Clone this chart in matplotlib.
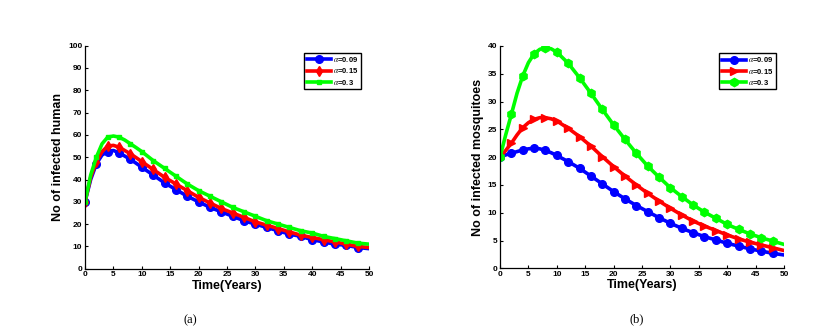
import matplotlib.pyplot as plt

plt.rcParams['font.family'] = ['Liberation Sans', 'DejaVu Sans']
plt.rcParams['mathtext.fontset'] = 'stix'

# time points (odd years only where the curve bends)
t = [0, 1, 2, 3, 4, 5, 6, 7, 8, 9, 10, 12, 14, 16, 18, 20, 22, 24, 26, 28,
     30, 32, 34, 36, 38, 40, 42, 44, 46, 48, 50]
marker_idx = [i for i, v in enumerate(t) if v % 2 == 0 and v < 50]

labels = [r'$\alpha$=0.09', r'$\alpha$=0.15', r'$\alpha$=0.3']
colors = ['#0000ff', '#ff0000', '#00ff00']

# panel (a): infected humans
human_009 = [30, 40, 47, 51, 52.5, 53, 52, 50.5, 49, 47.3, 45.5, 42, 38.5, 35.5, 32.5,
             30, 27.5, 25.5, 23.5, 21.5, 20, 18.5, 17, 15.5, 14.5, 13, 12, 11, 10.5, 9.5, 9]
human_015 = [30, 41, 48, 52.5, 55, 55.3, 54.5, 53, 51.5, 49.8, 48, 44.5, 41, 38, 35,
             32, 29.5, 27, 25, 23, 21, 19.5, 18, 16.5, 15, 14, 13, 12, 11, 10, 9.5]
human_03 = [30, 42, 50, 56, 59, 59.5, 59, 57.7, 56, 54.3, 52.5, 48.5, 45, 41.5, 38,
            35, 32.5, 30, 27.5, 25.5, 23.5, 21.5, 20, 18.5, 17, 16, 14.5, 13.5, 12.5, 11.5, 11]

# panel (b): infected mosquitoes
mosq_009 = [20, 20.4, 20.7, 21.0, 21.3, 21.5, 21.6, 21.5, 21.2, 20.8, 20.3, 19.2, 18, 16.6,
            15.2, 13.8, 12.5, 11.3, 10.2, 9.1, 8.1, 7.2, 6.4, 5.7, 5.1, 4.5, 4.0, 3.5, 3.1, 2.7, 2.4]
mosq_015 = [20, 21.2, 22.5, 24.0, 25.3, 26.2, 26.8, 27.1, 27.1, 26.9, 26.5, 25.2, 23.7, 22,
            20.1, 18.3, 16.6, 15.0, 13.5, 12.1, 10.8, 9.6, 8.5, 7.6, 6.8, 6.0, 5.3, 4.7, 4.2, 3.7, 3.2]
mosq_03 = [20, 24, 27.7, 31.5, 34.6, 37, 38.6, 39.4, 39.7, 39.5, 38.9, 36.9, 34.3, 31.5,
           28.6, 25.8, 23.2, 20.7, 18.4, 16.4, 14.5, 12.9, 11.4, 10.1, 9.0, 7.9, 7.0, 6.2, 5.5, 4.9, 4.3]

fig = plt.figure(figsize=(8.2, 3.32), dpi=100)
ax1 = fig.add_axes([85 / 820, 63.3 / 332, 284 / 820, 223 / 332])
ax2 = fig.add_axes([500 / 820, 63.7 / 332, 284 / 820, 222.3 / 332])


def panel(ax, series, markers, sizes, ylim, yticks, ylabel, caption, cap_x):
    for y, m, s, c, lab in zip(series, markers, sizes, colors, labels):
        ax.plot(t, y, color=c, lw=2.6, marker=m, ms=s,
                markevery=marker_idx, label=lab)
    ax.set_xlim(0, 50)
    ax.set_ylim(*ylim)
    ax.set_xticks(range(0, 51, 5))
    ax.set_yticks(yticks)
    ax.tick_params(labelsize=6, length=2.5, width=0.8, direction='in', pad=2)
    for lab in ax.get_xticklabels() + ax.get_yticklabels():
        lab.set_fontweight('bold')
    for s in ['top', 'right']:
        ax.spines[s].set_visible(False)
    for s in ['left', 'bottom']:
        ax.spines[s].set_linewidth(0.9)
    ax.set_xlabel('Time(Years)', fontsize=9, fontweight='bold', labelpad=1)
    ax.set_ylabel(ylabel, fontsize=9, fontweight='bold', labelpad=3)
    leg = ax.legend(loc='upper right', handlelength=3.2,
                    fancybox=False, edgecolor='black', framealpha=1,
                    borderpad=0.3, labelspacing=0.3, handletextpad=0.3,
                    prop={'weight': 'bold', 'size': 5.5}, bbox_to_anchor=(0.985, 0.985))
    leg.get_frame().set_linewidth(1.0)
    ax.text(cap_x, -0.23, caption, transform=ax.transAxes, ha='center', va='center',
            fontsize=9, family='Liberation Serif')


panel(ax1, [human_009, human_015, human_03], ['o', 'd', 's'], [5.5, 5.5, 3],
      (0, 100), range(0, 101, 10), 'No of infected human', '(a)', 0.37)
panel(ax2, [mosq_009, mosq_015, mosq_03], ['o', '>', 'h'], [5.5, 6, 6],
      (0, 40), range(0, 41, 5), 'No of infected mosquitoes', '(b)', 0.48)

fig.savefig('out.png', dpi=100)
